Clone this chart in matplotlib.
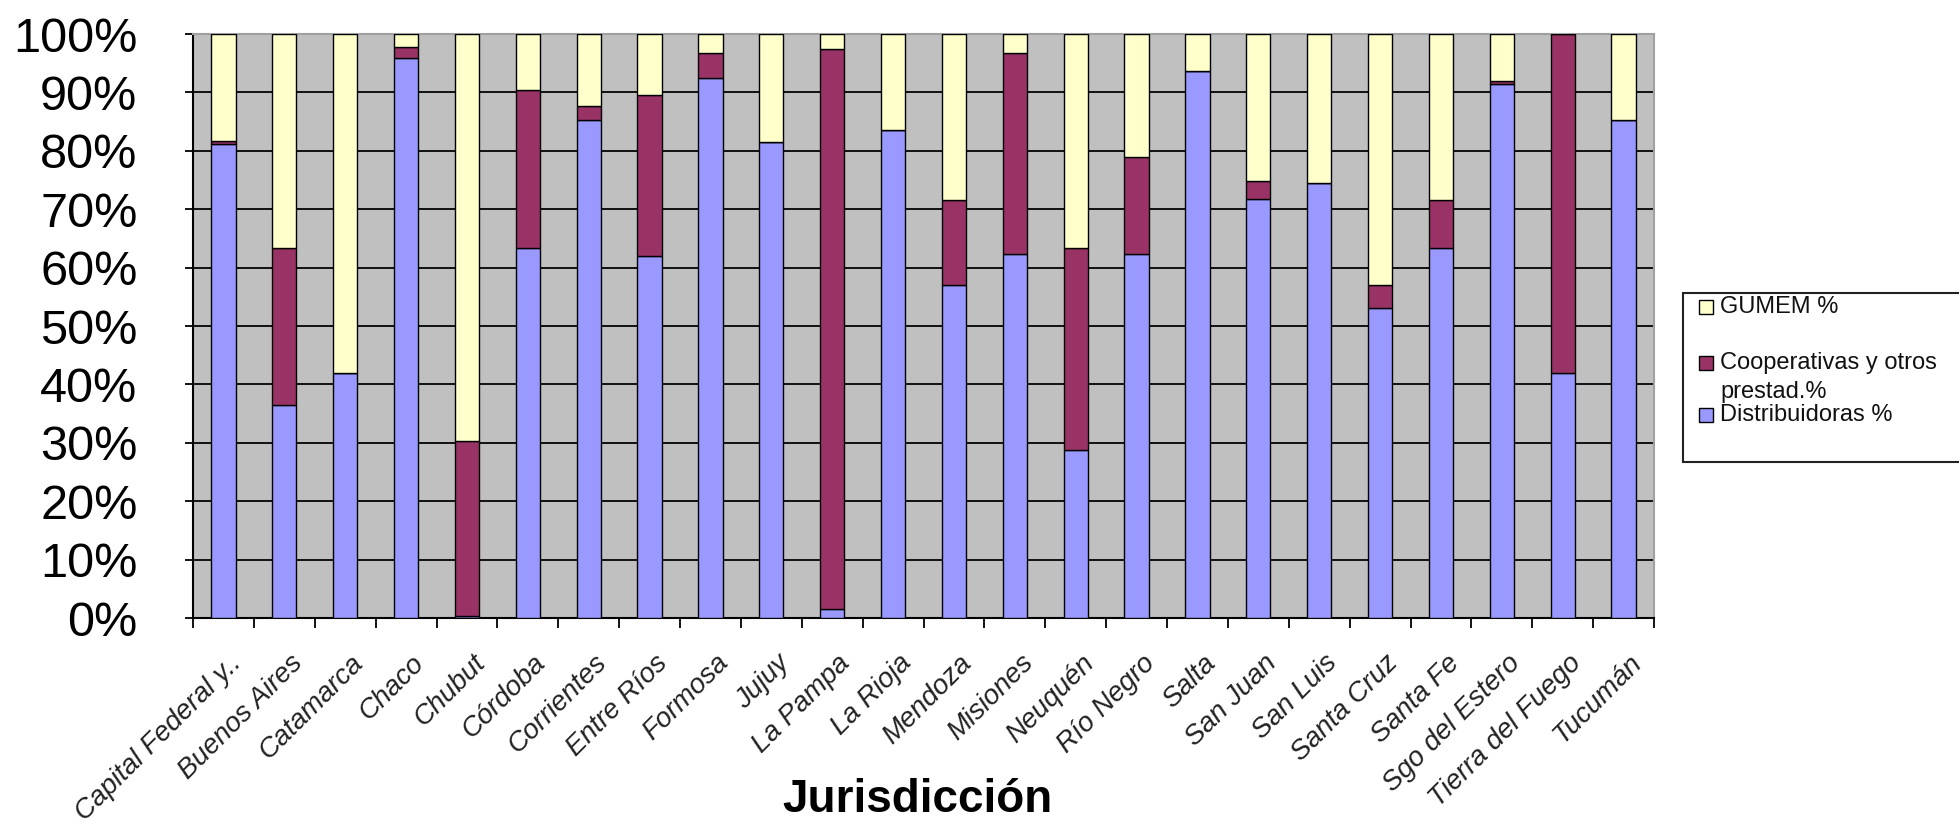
import matplotlib
matplotlib.use("Agg")
import matplotlib.pyplot as plt
import numpy as np
from matplotlib.patches import Rectangle
from matplotlib.ticker import FixedLocator, PercentFormatter

plt.rcParams['font.family'] = ['Liberation Sans', 'DejaVu Sans']

categories = ["Capital Federal y..", "Buenos Aires", "Catamarca", "Chaco", "Chubut",
              "Córdoba", "Corrientes", "Entre Ríos", "Formosa", "Jujuy", "La Pampa",
              "La Rioja", "Mendoza", "Misiones", "Neuquén", "Río Negro", "Salta",
              "San Juan", "San Luis", "Santa Cruz", "Santa Fe", "Sgo del Estero",
              "Tierra del Fuego", "Tucumán"]

distribuidoras = [81.1, 36.4, 41.9, 95.9, 0.3, 63.3, 85.3, 62.0, 92.4, 81.5, 1.5,
                  83.5, 57.0, 62.4, 28.8, 62.4, 93.7, 71.7, 74.5, 53.1, 63.3, 91.5,
                  41.9, 85.3]
cooperativas = [0.5, 26.9, 0.0, 1.9, 30.0, 27.1, 2.4, 27.6, 4.4, 0.0, 96.0,
                0.0, 14.5, 34.3, 34.5, 16.5, 0.0, 3.2, 0.0, 3.9, 8.2, 0.5,
                58.1, 0.0]
gumem = [18.4, 36.7, 58.1, 2.2, 69.7, 9.6, 12.3, 10.4, 3.2, 18.5, 2.5,
         16.5, 28.5, 3.3, 36.7, 21.1, 6.3, 25.1, 25.5, 43.0, 28.5, 8.0,
         0.0, 14.7]

series_names = ["Distribuidoras %", "Cooperativas y otros\nprestad.%", "GUMEM %"]
colors = ["#9999FF", "#993366", "#FFFFCC"]
yticks = [0, 10, 20, 30, 40, 50, 60, 70, 80, 90, 100]
xlabel = "Jurisdicción"

W, H = 1959, 823
fig = plt.figure(figsize=(W / 100, H / 100), dpi=100)
ax = fig.add_axes([193 / W, 1 - 618 / H, (1654 - 193) / W, (618 - 34) / H])
ax.set_facecolor("#C0C0C0")

x = np.arange(len(categories))
bw = 0.4
bottom = np.zeros(len(categories))
for vals, col in zip([distribuidoras, cooperativas, gumem], colors):
    v = np.array(vals)
    ax.bar(x, v, bw, bottom=bottom, color=col, edgecolor="black", linewidth=1.0, zorder=3)
    bottom += v

ax.set_xlim(-0.5, len(categories) - 0.5)
ax.set_ylim(0, 100)
ax.yaxis.set_major_locator(FixedLocator(yticks))
ax.yaxis.set_major_formatter(PercentFormatter(decimals=0))
for yv in yticks[1:]:
    ax.axhline(yv, color="#111111", linewidth=1.4, zorder=1)

ax.tick_params(axis="y", direction="out", length=6, width=1.3, pad=34, labelsize=35)
for lbl in ax.get_yticklabels():
    lbl.set_fontfamily(['Liberation Sans', 'DejaVu Sans'])

# x ticks at category boundaries, labels at centers
ax.set_xticks(np.arange(-0.5, len(categories), 1.0), minor=True)
ax.set_xticks(x)
ax.set_xticklabels([])
ax.tick_params(axis="x", which="major", length=0)
ax.tick_params(axis="x", which="minor", direction="out", length=7, width=1.3)

import matplotlib.transforms as mtransforms
offset = mtransforms.ScaledTranslation(5 / 100, -32 / 100, fig.dpi_scale_trans)
for xi, name in zip(x, categories):
    ax.text(xi, 0, name, transform=ax.get_xaxis_transform() + offset,
            rotation=45, rotation_mode="anchor", ha="right", va="top",
            fontsize=20, fontstyle="italic", color="#222222")

for side in ["left", "bottom"]:
    ax.spines[side].set_color("black")
    ax.spines[side].set_linewidth(1.5)
for side in ["top", "right"]:
    ax.spines[side].set_color("#A0A0A0")
    ax.spines[side].set_linewidth(1.5)

fig.text(917 / W, 1 - 812 / H, xlabel, ha="center", va="baseline",
         fontsize=33, fontweight="bold")

# Legend (Excel style, manually placed)
box = Rectangle((1683 / W, 1 - 462 / H), (1990 - 1683) / W, (462 - 293) / H,
                transform=fig.transFigure, facecolor="white", edgecolor="#222222",
                linewidth=1.5, clip_on=False)
fig.patches.append(box)
leg_items = [(2, 307), (1, 363), (0, 415)]
for idx, yc in leg_items:
    sq = Rectangle((1699 / W, 1 - (yc + 7) / H), 14 / W, 14 / H, transform=fig.transFigure,
                   facecolor=colors[idx], edgecolor="black", linewidth=1.0)
    fig.patches.append(sq)
    lines = series_names[idx].split("\n")
    for k, line in enumerate(lines):
        fig.text(1720 / W, 1 - (yc + 29 * k) / H, line, ha="left", va="center",
                 fontsize=17, color="#111111")

fig.savefig("out.png", dpi=100)
